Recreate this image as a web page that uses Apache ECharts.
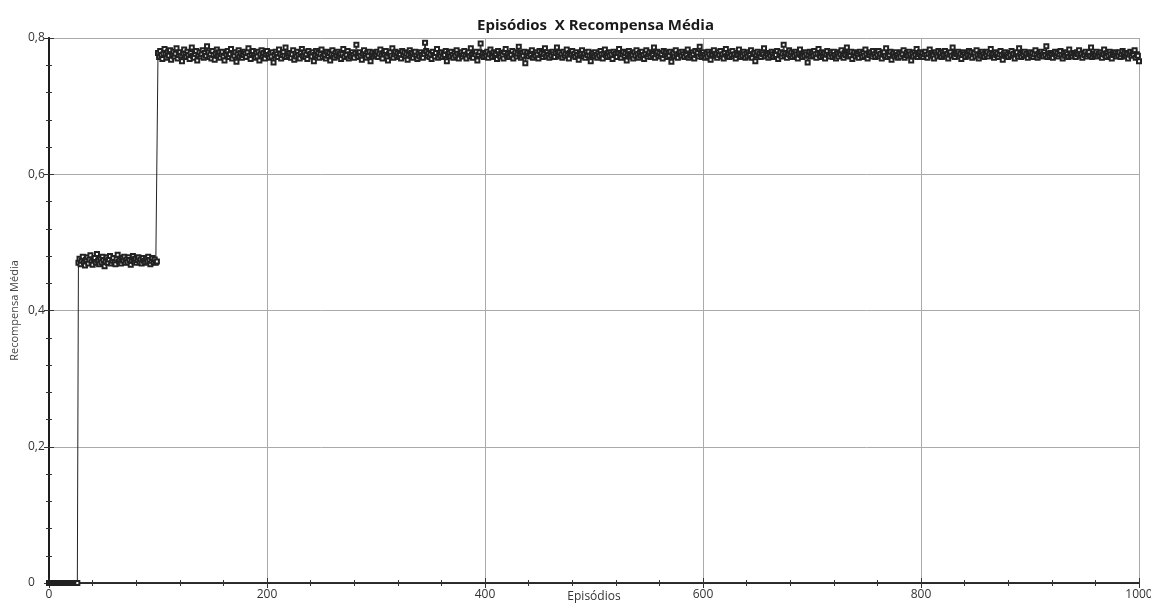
<!DOCTYPE html>
<html>
<head>
<meta charset="utf-8">
<script src="https://cdn.jsdelivr.net/npm/echarts@6/dist/echarts.min.js"></script>
<style>
html,body{margin:0;padding:0;background:#fff;}
#chart{width:1151px;height:603px;}
</style>
</head>
<body>
<div id="chart"></div>
<script>
var chartTitle = 'Episódios  X Recompensa Média';
var xName = 'Episódios';
var yName = 'Recompensa Média';
var xTicks = [0, 200, 400, 600, 800, 1000];
var yTicks = ['0', '0,2', '0,4', '0,6', '0,8'];

// episodes 0..26
var phaseZero = [0,0,0,0,0,0,0,0,0,0,0,0,0,0,0,0,0,0,0,0,0,0,0,0,0,0,0];
// episodes 27..99
var phaseMid = [
.470,.476,.468,.473,.479,.471,.466,.474,.478,.469,.475,.481,.472,.467,.474,.477,.470,.483,.473,.468,
.476,.471,.479,.474,.465,.472,.478,.470,.475,.480,.469,.473,.477,.471,.468,.476,.482,.472,.474,.469,
.477,.473,.479,.470,.475,.471,.478,.474,.467,.473,.480,.472,.476,.470,.474,.478,.471,.475,.469,.477,
.473,.470,.476,.472,.479,.474,.468,.473,.477,.471,.475,.470,.472
];
// episodes 100..1000
var phaseHigh = [
.778,.772,.781,.775,.769,.777,.784,.776,.771,.779,.774,.782,.768,.776,.780,.773,.777,.785,.770,.775,
.779,.774,.766,.777,.783,.776,.772,.780,.775,.769,.778,.786,.774,.771,.777,.781,.767,.775,.779,.773,
.776,.782,.771,.778,.774,.788,.779,.772,.776,.770,.781,.775,.768,.777,.783,.774,.779,.771,.776,.780,
.773,.767,.778,.775,.781,.772,.776,.784,.770,.777,.774,.779,.765,.776,.782,.773,.778,.771,.775,.780,
.777,.772,.779,.785,.774,.769,.776,.781,.775,.771,.778,.773,.780,.767,.776,.782,.774,.778,.770,.776,
.781,.775,.771,.777,.773,.779,.764,.775,.780,.776,.772,.783,.777,.770,.775,.779,.774,.786,.772,.777,
.774,.778,.771,.776,.782,.768,.777,.773,.780,.775,.770,.778,.784,.774,.779,.772,.776,.769,.781,.775,
.777,.773,.779,.766,.775,.781,.774,.778,.771,.776,.783,.772,.777,.775,.770,.780,.774,.778,.767,.776,
.782,.775,.771,.778,.774,.780,.773,.777,.769,.776,.784,.772,.778,.775,.781,.770,.776,.773,.779,.775,
.771,.778,.790,.775,.772,.779,.774,.768,.777,.782,.775,.771,.778,.774,.780,.766,.776,.779,.773,.777,
.775,.780,.772,.777,.783,.774,.770,.778,.776,.781,.773,.767,.777,.779,.774,.785,.771,.776,.780,.774,
.778,.772,.776,.770,.781,.775,.779,.773,.777,.768,.775,.782,.774,.778,.771,.776,.780,.774,.769,.777,
.773,.779,.775,.771,.777,.793,.781,.774,.778,.772,.776,.769,.780,.775,.773,.778,.784,.771,.776,.774,
.779,.772,.777,.775,.781,.766,.776,.778,.773,.780,.775,.771,.778,.774,.782,.777,.770,.776,.779,.773,
.776,.781,.774,.770,.777,.779,.773,.785,.775,.771,.778,.776,.780,.767,.775,.779,.792,.774,.777,.772,
.778,.774,.780,.771,.776,.783,.775,.772,.779,.774,.777,.769,.781,.776,.773,.778,.775,.770,.779,.784,
.774,.777,.772,.778,.775,.781,.770,.776,.779,.773,.777,.787,.775,.771,.778,.774,.780,.763,.776,.779,
.773,.778,.775,.782,.771,.777,.774,.779,.776,.770,.781,.775,.778,.772,.776,.785,.773,.779,.775,.771,
.777,.774,.780,.776,.772,.778,.786,.775,.779,.773,.776,.771,.780,.774,.777,.783,.775,.770,.778,.776,
.781,.774,.777,.772,.779,.775,.768,.778,.776,.782,.773,.777,.771,.779,.775,.780,.774,.766,.776,.778,
.773,.779,.775,.771,.778,.774,.781,.776,.770,.777,.783,.775,.772,.778,.774,.779,.776,.769,.780,.775,
.777,.772,.778,.784,.775,.771,.776,.780,.774,.778,.767,.776,.781,.773,.777,.775,.770,.779,.774,.782,
.776,.771,.778,.774,.780,.775,.769,.777,.782,.773,.776,.779,.772,.778,.775,.786,.771,.776,.780,.774,
.778,.773,.776,.770,.781,.775,.779,.772,.777,.774,.780,.765,.776,.778,.773,.782,.775,.771,.777,.779,
.774,.780,.776,.772,.778,.775,.783,.771,.777,.774,.779,.776,.770,.781,.775,.778,.773,.787,.776,.772,
.779,.775,.771,.777,.773,.780,.776,.768,.778,.775,.782,.774,.777,.771,.779,.775,.781,.773,.776,.770,
.778,.784,.774,.777,.772,.779,.775,.781,.773,.776,.770,.778,.775,.783,.772,.777,.774,.780,.776,.771,
.777,.773,.779,.775,.782,.771,.776,.778,.766,.775,.780,.774,.777,.772,.779,.776,.785,.773,.778,.775,
.771,.777,.774,.780,.776,.772,.778,.775,.781,.769,.776,.779,.773,.777,.790,.774,.778,.771,.776,.782,
.775,.779,.772,.777,.774,.780,.776,.770,.778,.783,.775,.772,.777,.774,.779,.776,.764,.775,.780,.773,
.778,.774,.781,.776,.771,.777,.784,.775,.772,.779,.774,.778,.770,.776,.781,.775,.773,.779,.776,.772,
.780,.775,.770,.777,.773,.779,.776,.782,.774,.771,.778,.775,.786,.773,.777,.774,.780,.769,.776,.779,
.773,.778,.775,.771,.780,.776,.772,.778,.774,.783,.776,.770,.777,.775,.779,.773,.781,.776,.772,.778,
.775,.781,.773,.777,.770,.776,.779,.774,.785,.772,.777,.775,.780,.768,.776,.778,.773,.779,.775,.771,
.777,.773,.779,.776,.782,.771,.775,.778,.774,.780,.776,.767,.777,.773,.779,.775,.784,.772,.776,.779,
.774,.778,.772,.776,.780,.775,.771,.777,.783,.774,.778,.775,.770,.779,.776,.773,.781,.775,.778,.772,
.779,.775,.781,.773,.777,.770,.776,.779,.774,.786,.775,.772,.778,.776,.780,.773,.777,.769,.775,.779,
.776,.772,.778,.775,.781,.774,.779,.771,.776,.778,.773,.782,.775,.770,.777,.774,.780,.776,.772,.778,
.775,.780,.773,.777,.784,.774,.776,.771,.779,.775,.778,.772,.776,.781,.775,.768,.777,.779,.774,.776,
.772,.778,.775,.781,.774,.777,.770,.776,.779,.773,.785,.776,.772,.778,.775,.780,.774,.777,.771,.776,
.779,.774,.778,.772,.776,.782,.775,.771,.777,.774,.780,.776,.773,.779,.775,.788,.772,.777,.774,.778,
.775,.771,.777,.780,.774,.778,.773,.776,.781,.775,.770,.778,.774,.779,.776,.772,.783,.775,.777,.773,
.778,.775,.772,.779,.776,.782,.774,.777,.771,.778,.775,.780,.773,.776,.779,.774,.786,.772,.777,.775,
.776,.780,.773,.777,.774,.779,.771,.776,.783,.775,.772,.778,.774,.780,.776,.770,.777,.775,.779,.773,
.777,.774,.779,.772,.776,.781,.775,.778,.773,.777,.770,.776,.780,.774,.778,.775,.782,.771,.776,.774,
.766
];

var values = phaseZero.concat(phaseMid, phaseHigh);
var seriesData = values.map(function (v, i) { return [i, v]; });

var chart = echarts.init(document.getElementById('chart'), null, {renderer: 'canvas'});
var axisFont = {fontFamily: 'Open Sans', fontSize: 12, color: '#333'};
chart.setOption({
  animation: false,
  backgroundColor: '#fff',
  title: {
    text: chartTitle,
    left: 472,
    top: 13,
    textStyle: {fontFamily: 'Open Sans', fontWeight: 'bold', fontSize: 15, color: '#1a1a1a'}
  },
  grid: {left: 49, right: 12, top: 38, bottom: 20, containLabel: false, outerBoundsMode: 'none'},
  xAxis: [{
    type: 'value', min: xTicks[0], max: xTicks[xTicks.length - 1], interval: 200,
    position: 'bottom',
    name: xName, nameLocation: 'middle', nameGap: 8, nameMoveOverlap: false,
    nameTextStyle: {fontFamily: 'Open Sans', fontSize: 12, color: '#333', verticalAlign: 'top'},
    axisLine: {lineStyle: {color: '#222', width: 1.5}},
    axisTick: {inside: true, length: 5, lineStyle: {color: '#333'}},
    minorTick: {show: true, splitNumber: 5, length: 3, lineStyle: {color: '#333'}},
    axisLabel: Object.assign({margin: 6, formatter: function (v) { return String(v); }}, axisFont),
    splitLine: {show: true, lineStyle: {color: '#aaa', width: 1}}
  }, {
    type: 'value', min: 0, max: 1000, interval: 200, position: 'top',
    axisLine: {show: true, lineStyle: {color: '#222', width: 1.5}},
    axisTick: {show: true, inside: true, length: 5, lineStyle: {color: '#333'}},
    minorTick: {show: true, splitNumber: 5, length: 3, lineStyle: {color: '#333'}},
    axisLabel: {show: false}, splitLine: {show: false}
  }],
  yAxis: [{
    type: 'value', min: 0, max: 0.8, interval: 0.2,
    name: yName, nameLocation: 'middle', nameGap: 29, nameMoveOverlap: false,
    nameTextStyle: {fontFamily: 'Open Sans', fontSize: 11, color: '#444'},
    axisLine: {show: true, lineStyle: {color: '#111', width: 2}},
    axisTick: {show: true, inside: true, length: 5, lineStyle: {color: '#333'}},
    minorTick: {show: true, splitNumber: 5, length: 3, lineStyle: {color: '#333'}},
    axisLabel: Object.assign({margin: 21, align: 'left', formatter: function (v) {
      return yTicks[Math.round(v / 0.2)];
    }}, axisFont),
    splitLine: {show: true, lineStyle: {color: '#aaa', width: 1}}
  }, {
    type: 'value', min: 0, max: 0.8, interval: 0.2, position: 'right',
    axisLine: {show: true, lineStyle: {color: '#222', width: 1.5}},
    axisTick: {show: true, inside: true, length: 5, lineStyle: {color: '#333'}},
    minorTick: {show: true, splitNumber: 5, length: 3, lineStyle: {color: '#333'}},
    axisLabel: {show: false}, splitLine: {show: false}
  }],
  series: [{
    type: 'line',
    data: seriesData,
    xAxisIndex: 0, yAxisIndex: 0,
    symbol: 'emptyRect',
    symbolSize: 4,
    showAllSymbol: true,
    sampling: null,
    lineStyle: {color: '#222', width: 1},
    itemStyle: {color: '#222', borderWidth: 1},
    clip: false
  }]
});
</script>
</body>
</html>
